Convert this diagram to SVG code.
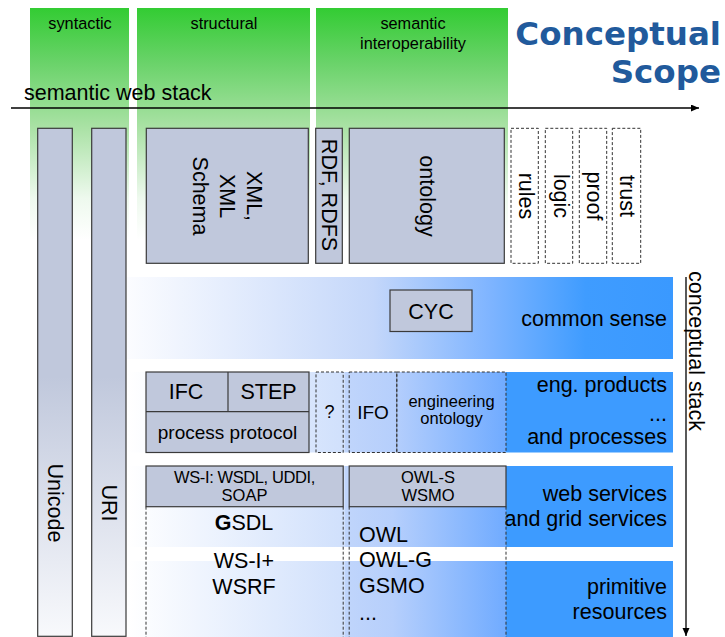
<svg xmlns="http://www.w3.org/2000/svg" width="725" height="637" viewBox="0 0 725 637">
  <defs>
    <linearGradient id="gGreen" gradientUnits="userSpaceOnUse" x1="0" y1="8" x2="0" y2="240">
      <stop offset="0" stop-color="#33cc33"/>
      <stop offset="0.22" stop-color="#66d266"/>
      <stop offset="0.52" stop-color="#abe2a6"/>
      <stop offset="0.82" stop-color="#eef9ee"/>
      <stop offset="1" stop-color="#ffffff"/>
    </linearGradient>
    <linearGradient id="gBar" gradientUnits="userSpaceOnUse" x1="0" y1="128" x2="0" y2="636">
      <stop offset="0" stop-color="#c0c8dc"/>
      <stop offset="0.49" stop-color="#c0c8dc"/>
      <stop offset="1" stop-color="#f8f9fc"/>
    </linearGradient>
    <linearGradient id="gBand1" gradientUnits="userSpaceOnUse" x1="128" y1="0" x2="673" y2="0">
      <stop offset="0" stop-color="#fbfcff"/>
      <stop offset="0.45" stop-color="#c4d7fa"/>
      <stop offset="0.66" stop-color="#80b5ff"/>
      <stop offset="0.84" stop-color="#3f9cff"/>
      <stop offset="1" stop-color="#3a99ff"/>
    </linearGradient>
    <linearGradient id="gBandL" gradientUnits="userSpaceOnUse" x1="128" y1="0" x2="506" y2="0">
      <stop offset="0" stop-color="#ffffff"/>
      <stop offset="0.575" stop-color="#d0e0fc"/>
      <stop offset="0.575" stop-color="#c0d5fb"/>
      <stop offset="0.7" stop-color="#b6cffc"/>
      <stop offset="1" stop-color="#70abff"/>
    </linearGradient>
    <marker id="arrow" markerUnits="userSpaceOnUse" markerWidth="9" markerHeight="8" refX="8" refY="3.5" orient="auto">
      <path d="M0,0 L8,3.5 L0,7 z" fill="#000"/>
    </marker>
    <style>
      text { font-family: "Liberation Sans", Arial, sans-serif; fill: #000; }
      .hdr { font-size: 16.3px; text-anchor: middle; }
      .lbl { font-size: 21.5px; }
      .mid { text-anchor: middle; }
      .end { text-anchor: end; }
      .box { fill: #c0c8dc; stroke: #3a3a3a; stroke-width: 1.2; }
      .bar { fill: url(#gBar); stroke: #3a3a3a; stroke-width: 1.2; }
      .dash { fill: none; stroke: #333; stroke-width: 1; stroke-dasharray: 3 2; }
      .dashw { fill: #ffffff; stroke: #333; stroke-width: 1; stroke-dasharray: 3 2; }
      .green { fill: url(#gGreen); }
      .solid { fill: #3d9bff; }
      .title { font-family: "DejaVu Sans", Verdana, sans-serif; font-weight: bold; font-size: 32.5px; fill: #215a9c; text-anchor: end; }
      .conn { stroke: #000; stroke-width: 1.3; fill: none; }
    </style>
  </defs>

  <rect width="725" height="637" fill="#ffffff"/>

  <!-- interoperability columns -->
  <g id="columns">
    <rect class="green" x="30" y="8" width="99" height="240"/>
    <rect class="green" x="137" y="8" width="173" height="240"/>
    <rect class="green" x="316" y="8" width="192" height="240"/>
    <text class="hdr" x="80" y="29">syntactic</text>
    <text class="hdr" x="224" y="29">structural</text>
    <text class="hdr" x="413" y="29">semantic</text>
    <text class="hdr" x="413" y="48.5">interoperability</text>
  </g>

  <!-- title -->
  <g id="title">
    <text class="title" x="721" y="45">Conceptual</text>
    <text class="title" x="721" y="83">Scope</text>
  </g>

  <!-- conceptual stack bands -->
  <g id="band-common-sense">
    <rect x="127" y="277" width="546" height="82" fill="url(#gBand1)"/>
    <text class="lbl end" x="667" y="325.5">common sense</text>
  </g>
  <g id="band-eng-products">
    <rect x="127" y="372" width="379" height="80.5" fill="url(#gBandL)"/>
    <rect class="solid" x="506" y="372" width="167" height="80.5"/>
    <text class="lbl end" x="667" y="392">eng. products</text>
    <text class="lbl end" x="667" y="421">...</text>
    <text class="lbl end" x="667" y="443.5">and processes</text>
  </g>
  <g id="band-web-services">
    <rect x="127" y="466" width="379" height="81" fill="url(#gBandL)"/>
    <rect class="solid" x="506" y="466" width="167" height="81"/>
    <text class="lbl end" x="667" y="501">web services</text>
    <text class="lbl end" x="667" y="525.5">and grid services</text>
  </g>
  <g id="band-primitive">
    <rect x="127" y="561" width="379" height="76" fill="url(#gBandL)"/>
    <rect class="solid" x="506" y="561" width="167" height="76"/>
    <text class="lbl end" x="667" y="593.5">primitive</text>
    <text class="lbl end" x="667" y="618.5">resources</text>
  </g>

  <!-- vertical base layers -->
  <g id="unicode">
    <rect class="bar" x="37.7" y="128.3" width="34.6" height="508"/>
    <text class="lbl mid" transform="translate(47.5,503) rotate(90)">Unicode</text>
  </g>
  <g id="uri">
    <rect class="bar" x="91.7" y="128.3" width="34.3" height="508"/>
    <text class="lbl mid" transform="translate(102,503) rotate(90)">URI</text>
  </g>

  <!-- semantic web stack layers -->
  <g id="xml">
    <rect class="box" x="146.3" y="128.3" width="162" height="135"/>
    <text class="lbl mid" transform="translate(247,196) rotate(90)">XML,</text>
    <text class="lbl mid" transform="translate(220,196) rotate(90)">XML</text>
    <text class="lbl mid" transform="translate(193,196) rotate(90)">Schema</text>
  </g>
  <g id="rdf">
    <rect class="box" x="315.7" y="128.3" width="26.6" height="135"/>
    <text class="lbl mid" transform="translate(321.5,195) rotate(90)">RDF, RDFS</text>
  </g>
  <g id="ontology">
    <rect class="box" x="349.3" y="128.3" width="155" height="135"/>
    <text class="lbl mid" transform="translate(420,196) rotate(90)">ontology</text>
  </g>
  <g id="rules">
    <rect class="dashw" x="511" y="128.3" width="27.3" height="135"/>
    <text class="lbl mid" transform="translate(518.5,196) rotate(90)">rules</text>
  </g>
  <g id="logic">
    <rect class="dashw" x="545.3" y="128.3" width="27.4" height="135"/>
    <text class="lbl mid" transform="translate(553.5,196) rotate(90)">logic</text>
  </g>
  <g id="proof">
    <rect class="dashw" x="579.3" y="128.3" width="27.4" height="135"/>
    <text class="lbl mid" transform="translate(587,196) rotate(90)">proof</text>
  </g>
  <g id="trust">
    <rect class="dashw" x="612.3" y="128.3" width="28.4" height="135"/>
    <text class="lbl mid" transform="translate(620,196) rotate(90)">trust</text>
  </g>

  <!-- common sense -->
  <g id="cyc">
    <rect class="box" x="390" y="290" width="82" height="41.5"/>
    <text class="lbl mid" x="431" y="318.5">CYC</text>
  </g>

  <!-- engineering products and processes -->
  <g id="ifc-step">
    <rect class="box" x="146" y="372" width="163" height="80.5"/>
    <line x1="146" y1="411.7" x2="309" y2="411.7" stroke="#3a3a3a" stroke-width="1.2"/>
    <line x1="228" y1="372" x2="228" y2="411.7" stroke="#3a3a3a" stroke-width="1.2"/>
    <text class="lbl mid" x="186" y="398.5">IFC</text>
    <text class="lbl mid" x="268.5" y="398.5">STEP</text>
    <text class="mid" x="227.5" y="438.5" style="font-size:19px">process protocol</text>
  </g>
  <g id="unknown">
    <rect class="dash" x="316" y="372" width="27.2" height="80.5"/>
    <text class="mid" x="329.5" y="418" style="font-size:18px">?</text>
  </g>
  <g id="ifo">
    <rect class="dash" x="349.2" y="372" width="47.6" height="80.5"/>
    <text class="mid" x="373" y="418.5" style="font-size:19px">IFO</text>
  </g>
  <g id="eng-ontology">
    <rect class="dash" x="396.8" y="372" width="109.2" height="80.5"/>
    <text class="mid" x="451.5" y="406.5" style="font-size:16.5px">engineering</text>
    <text class="mid" x="451.5" y="424" style="font-size:16.5px">ontology</text>
  </g>

  <!-- web and grid services -->
  <g id="ws-i">
    <rect class="box" x="146" y="466" width="197.2" height="40.7"/>
    <text class="mid" x="244.5" y="483.3" style="font-size:16.5px;letter-spacing:-0.4px">WS-I: WSDL, UDDI,</text>
    <text class="mid" x="244.5" y="500.7" style="font-size:16.5px">SOAP</text>
    <line class="dash" x1="146" y1="506.7" x2="146" y2="637"/>
    <line class="dash" x1="343.2" y1="506.7" x2="343.2" y2="637"/>
    <text class="lbl mid" x="244" y="530"><tspan font-weight="bold">G</tspan>SDL</text>
    <text class="lbl mid" x="244" y="568">WS-I+</text>
    <text class="lbl mid" x="244" y="593.5">WSRF</text>
  </g>
  <g id="owl-s">
    <rect class="box" x="349.2" y="466" width="156.8" height="40.7"/>
    <text class="mid" x="428" y="483.3" style="font-size:16.5px">OWL-S</text>
    <text class="mid" x="428" y="500.7" style="font-size:16.5px">WSMO</text>
    <line class="dash" x1="349.2" y1="506.7" x2="349.2" y2="637"/>
    <line class="dash" x1="506" y1="506.7" x2="506" y2="637"/>
    <text class="lbl" x="359" y="542.3">OWL</text>
    <text class="lbl" x="359" y="567.3">OWL-G</text>
    <text class="lbl" x="359" y="593.3">GSMO</text>
    <text class="lbl" x="359" y="620">...</text>
  </g>

  <!-- axes -->
  <g id="connectors">
    <line class="conn" x1="11" y1="108" x2="699" y2="108" marker-end="url(#arrow)"/>
    <line class="conn" x1="686" y1="277" x2="686" y2="636" marker-end="url(#arrow)"/>
  </g>
  <g id="axis-labels">
    <text x="24" y="100" style="font-size:21.5px">semantic web stack</text>
    <text class="lbl mid" transform="translate(689,351) rotate(90)">conceptual stack</text>
  </g>
</svg>
